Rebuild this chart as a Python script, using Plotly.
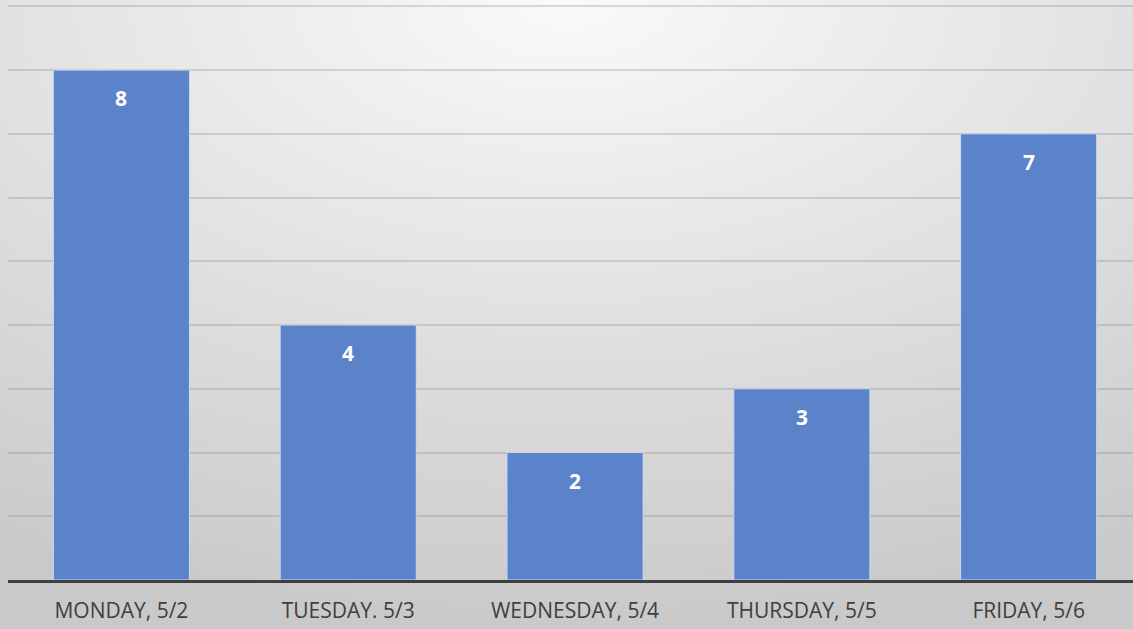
import base64
import plotly.graph_objects as go

categories = ["MONDAY, 5/2", "TUESDAY. 5/3", "WEDNESDAY, 5/4", "THURSDAY, 5/5", "FRIDAY, 5/6"]
values = [8, 4, 2, 3, 7]

W, H = 1133, 629
ML, MR, MT, MB = 8, 0, 0, 49
PW, PH = W - ML - MR, H - MT - MB

svg = f'''<svg xmlns="http://www.w3.org/2000/svg" width="{W}" height="{H}" preserveAspectRatio="none">
<defs><radialGradient id="g" cx="0.5" cy="0" r="1" fx="0.5" fy="0">
<stop offset="0" stop-color="#fafafa"/><stop offset="1" stop-color="#c9c9c9"/>
</radialGradient></defs>
<rect x="0" y="0" width="{W}" height="{H}" fill="url(#g)"/></svg>'''
src = "data:image/svg+xml;base64," + base64.b64encode(svg.encode()).decode()

fig = go.Figure()
fig.add_trace(go.Bar(
    x=list(range(len(categories))), y=values, width=0.6,
    marker=dict(color="#5a83c9", line=dict(color="#cdd8ee", width=1)),
    hoverinfo="skip",
))

for i, v in enumerate(values):
    fig.add_annotation(x=i, y=v, text=f"<b>{v}</b>", showarrow=False,
                       yshift=-28, yanchor="middle",
                       font=dict(family="Open Sans", size=21, color="white"))

fig.add_layout_image(dict(source=src, xref="paper", yref="paper",
                          x=-ML / PW, y=1 + MT / PH, sizex=W / PW, sizey=H / PH,
                          xanchor="left", yanchor="top", sizing="stretch",
                          layer="below"))

fig.update_layout(
    width=W, height=H,
    margin=dict(l=ML, r=MR, t=MT, b=MB),
    paper_bgcolor="rgba(0,0,0,0)", plot_bgcolor="rgba(0,0,0,0)",
    showlegend=False,
    xaxis=dict(range=[-0.5, 4.46], tickvals=list(range(len(categories))),
               ticktext=categories, showgrid=False, zeroline=False,
               showline=True, linecolor="#3f3f3f", linewidth=3,
               ticks="outside", ticklen=10, tickcolor="rgba(0,0,0,0)",
               tickfont=dict(family="Open Sans", size=21, color="#404040"),
               fixedrange=True),
    yaxis=dict(range=[0, 9.1], dtick=1, showgrid=True,
               gridcolor="rgba(128,128,128,0.28)", gridwidth=2,
               showticklabels=False, zeroline=False, fixedrange=True),
)

fig.write_html("out.html", config={"displayModeBar": False},
               post_script="document.body.style.margin='0';document.body.style.overflow='hidden';")
